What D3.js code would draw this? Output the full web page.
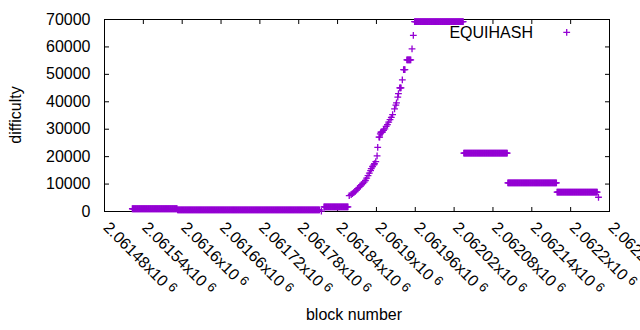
<!DOCTYPE html>
<html>
<head>
<meta charset="utf-8">
<script src="https://cdn.jsdelivr.net/npm/d3@7"></script>
<style>
  html, body { margin: 0; padding: 0; background: #fff; }
  svg { display: block; font-family: "Liberation Sans", Arial, sans-serif; }
</style>
</head>
<body>
<div id="chart"></div>
<script>
// runs of blocks sharing one difficulty value (start, end inclusive)
const blockStart = [2061523, 2061593, 2061815, 2061819,
    2061858, 2061861, 2061863, 2061865, 2061867, 2061869, 2061871, 2061873, 2061875, 2061877,
    2061879, 2061881, 2061883, 2061885, 2061887, 2061889, 2061891, 2061892, 2061894, 2061896,
    2061897, 2061899, 2061901, 2061902, 2061904, 2061906, 2061907, 2061911, 2061913, 2061915,
    2061917, 2061919, 2061921, 2061923, 2061925, 2061928, 2061930, 2061931, 2061933, 2061934,
    2061936, 2061940, 2061942, 2061947, 2061955, 2061957,
    2061959, 2062035, 2062103, 2062179, 2062243];
const blockEnd = [2061592, 2061812, 2061815, 2061856,
    2061858, 2061861, 2061863, 2061865, 2061867, 2061869, 2061871, 2061873, 2061875, 2061877,
    2061879, 2061881, 2061883, 2061885, 2061887, 2061889, 2061891, 2061892, 2061894, 2061896,
    2061897, 2061899, 2061901, 2061902, 2061905, 2061906, 2061909, 2061911, 2061913, 2061915,
    2061917, 2061919, 2061921, 2061923, 2061925, 2061928, 2061930, 2061931, 2061933, 2061934,
    2061938, 2061940, 2061944, 2061953, 2061955, 2061957,
    2062034, 2062102, 2062178, 2062241, 2062243];
const difficulty = [1000, 600, 150, 1650,
    5800, 6200, 6500, 6900, 7300, 7800, 8300, 8700, 9300, 9800,
    10200, 10700, 11300, 12200, 13100, 14000, 14900, 15600, 16400, 17000,
    17400, 18200, 20300, 23400, 27100, 28300, 28900, 29600, 30100, 31000,
    31700, 32600, 33500, 34300, 35300, 37400, 38800, 39600, 41700, 43000,
    45100, 48000, 51700, 55300, 59300, 64200,
    69200, 21300, 10450, 7040, 5200];

const xTickValues = [2061480, 2061540, 2061600, 2061660, 2061720, 2061780, 2061840,
    2061900, 2061960, 2062020, 2062080, 2062140, 2062200, 2062260];
const xTickLabels = ["2.06148", "2.06154", "2.0616", "2.06166", "2.06172", "2.06178", "2.06184",
    "2.0619", "2.06196", "2.06202", "2.06208", "2.06214", "2.0622", "2.06226"];
const yTickValues = [0, 10000, 20000, 30000, 40000, 50000, 60000, 70000];

const width = 640, height = 330;
const color = "#9400d3";

const svg = d3.select("#chart").append("svg")
    .attr("width", width)
    .attr("height", height);

svg.append("rect").attr("width", width).attr("height", height).attr("fill", "#fff");

const x = d3.scaleLinear().domain([2061480, 2062260]).range([104.5, 609.5]);
const y = d3.scaleLinear().domain([0, 70000]).range([211.5, 19.5]);

// expand runs into one point per block
const points = [];
blockStart.forEach((s, i) => {
    for (let b = s; b <= blockEnd[i]; b++) points.push({ block: b, diff: difficulty[i] });
});

// bottom axis with rotated labels
const xAxis = svg.append("g")
    .attr("transform", "translate(0,211.5)")
    .call(d3.axisBottom(x).tickValues(xTickValues).tickSizeInner(-4.5).tickSizeOuter(0).offset(0)
        .tickFormat((d, i) => xTickLabels[i]));
xAxis.select(".domain").remove();
xAxis.attr("font-size", 16).attr("font-family", null);
xAxis.selectAll("text").each(function (d, i) {
    const t = d3.select(this);
    t.text(null).attr("x", null).attr("y", null).attr("dy", null)
        .attr("text-anchor", "start")
        .attr("fill", "#000")
        .attr("transform", "translate(-2,17) rotate(45)");
    t.append("tspan").text(xTickLabels[i] + "x10");
    t.append("tspan").attr("dx", 4).attr("dy", -4).attr("font-size", 13).text("6");
});

// top mirror ticks
svg.append("g")
    .attr("transform", "translate(0,19.5)")
    .call(d3.axisTop(x).tickValues(xTickValues).tickSizeInner(-4.5).tickSizeOuter(0).offset(0).tickFormat(""))
    .select(".domain").remove();

// left axis
const yAxis = svg.append("g")
    .attr("transform", "translate(104.5,0)")
    .call(d3.axisLeft(y).tickValues(yTickValues).tickSizeInner(-4.5).tickSizeOuter(0).tickPadding(14).offset(0)
        .tickFormat(d3.format("d")));
yAxis.select(".domain").remove();
yAxis.attr("font-size", 16).attr("font-family", null);
yAxis.selectAll("text").attr("fill", "#000");

// right mirror ticks
svg.append("g")
    .attr("transform", "translate(609.5,0)")
    .call(d3.axisRight(y).tickValues(yTickValues).tickSizeInner(-4.5).tickSizeOuter(0).offset(0).tickFormat(""))
    .select(".domain").remove();

// frame
svg.append("rect")
    .attr("x", 104.5).attr("y", 19.5)
    .attr("width", 505).attr("height", 192)
    .attr("fill", "none").attr("stroke", "#000").attr("stroke-width", 1);

// axis titles
svg.append("text")
    .attr("transform", "translate(21,115) rotate(-90)")
    .attr("text-anchor", "middle")
    .attr("font-size", 16)
    .text("difficulty");

svg.append("text")
    .attr("x", 354).attr("y", 320)
    .attr("text-anchor", "middle")
    .attr("font-size", 16)
    .text("block number");

// points
const plus = (cx, cy) => `M${cx - 3.4},${cy}h6.8M${cx},${cy - 3.4}v6.8`;

svg.append("g")
    .attr("stroke", color)
    .attr("stroke-width", 1.3)
    .attr("fill", "none")
    .selectAll("path")
    .data(points)
    .join("path")
    .attr("d", d => plus(x(d.block), y(d.diff)));

// legend
svg.append("text")
    .attr("x", 533).attr("y", 38)
    .attr("text-anchor", "end")
    .attr("font-size", 16)
    .text("EQUIHASH");
svg.append("path")
    .attr("d", plus(566.7, 32.3))
    .attr("stroke", color)
    .attr("stroke-width", 1.3)
    .attr("fill", "none");
</script>
</body>
</html>
